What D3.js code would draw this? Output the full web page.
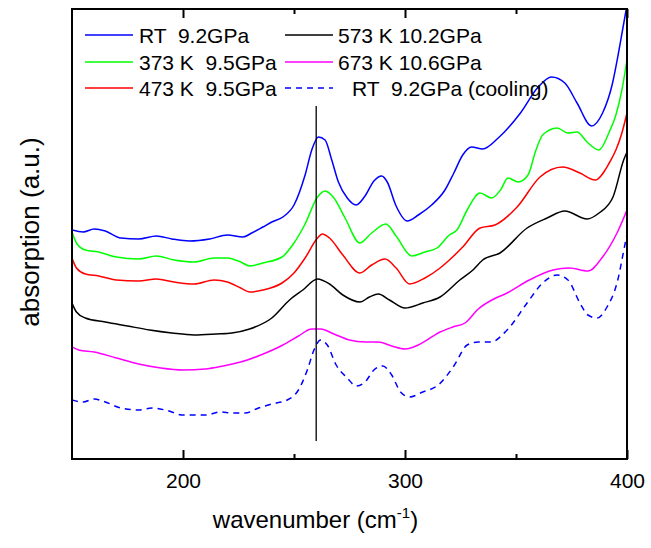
<!DOCTYPE html>
<html>
<head>
<meta charset="utf-8">
<script src="https://cdn.jsdelivr.net/npm/d3@7"></script>
<style>
  body { margin: 0; background: #fff; }
  text { font-family: "Liberation Sans", Arial, sans-serif; fill: #000; }
</style>
</head>
<body>
<svg id="drawing_region"></svg>
<script>
var width = 651;
var height = 548;
var margin = {top: 9, right: 24, bottom: 89, left: 72};

// spectra as [wavenumber, absorption (a.u.)]
const rt92 = [[150,229],[155,227],[160,230],[165,228],[172,221],[180,220],[188,223],[195,220],[203,218],[212,220],[220,224],[227,222],[231,226],[236,232],[240,237],[245,242],[250,254],[255,284],[258,309],[261,322],[264,319],[267,299],[270,277],[274,261],[278,254],[282,263],[286,278],[289.5,283],[292,277],[296,253],[301,238],[306,244],[312,254],[318,269],[322,286],[326,304],[330,312],[335,310],[342,321],[352,346],[360,372],[366,382],[372,376],[377.5,356],[384,333],[389,346],[393.5,376],[396,404],[398,429],[400,454]];
const k373 = [[150,227],[152,216],[156,209],[162,207],[170,202],[180,200],[188,203],[196,199],[205,197],[214,201],[220,201],[226,197],[230,193],[236,196],[244.6,202],[250,216],[255,235],[260.6,262],[264,268],[268,261],[273,241],[279.7,216],[285,226],[291.4,235],[296,223],[303,203],[309,207],[314.4,211],[320,224],[323.4,229],[328,249],[333.8,266],[339,261],[343,269],[346.4,281],[351,277],[355.4,284],[359,309],[362,324],[368.5,331],[373.4,326],[377.5,327],[382,317],[387.4,309],[392,327],[395,344],[397.7,369],[400,399]];
const k473 = [[150,201],[152,191],[156,185],[162,183],[170,179],[180,178],[188,180],[196,177],[205,175],[214,179],[220,177],[226,171],[230,167],[236,169],[244.6,176],[250,186],[255,201],[260.6,221],[262.7,225],[266,221],[272,204],[279.7,186],[285,194],[291,200],[296,191],[302,175],[309,181],[315.8,191],[320,199],[326,212],[333.8,231],[340.5,234],[350.5,252],[360.8,282],[371,292],[378.8,286],[385.6,279],[392,296],[395,309],[397.7,326],[400,346]];
const k573 = [[150,156],[152,147],[156,141],[165,137],[175,133],[185,129],[195,126],[205,124],[215,125],[222,126],[230,130],[240,141],[248,159],[254,169],[260.6,180],[266,175],[272,164],[279.7,157],[284,162],[288,165],[293,159],[300,151],[308,156],[315.8,162],[324.7,179],[330.6,189],[335,199],[342.8,206],[355,231],[364,241],[372,248],[382,240],[387.4,246],[393.7,262],[398.5,299],[400,307]];
const k673 = [[150,112],[153,109],[160,107],[170,101],[180,95],[190,91],[200,89],[210,90],[218,93],[226,97],[235,104],[245,114],[252,123],[258,130],[262,130],[268,125],[275,119],[282,117],[288,117],[294,113],[300,110],[306,114],[315.8,127],[321.6,132],[327,136],[333,150],[340,160],[346,166],[356,179],[366.7,189],[374,191],[382.4,188],[389,202],[395.5,226],[400,249]];
const cooling = [[150,59],[155,57],[160,60],[165,57],[172,51],[180,49],[186,51],[192,49],[200,44],[210,44],[217,47],[222,46],[228,46],[234,51],[240,55],[247,59],[252,69],[256,89],[259,109],[262,119],[265,114],[269,94],[274,81],[278,73],[282,77],[286,89],[290,93],[294,84],[298,67],[302,62],[308,67],[315,74],[322,93],[328,114],[333,117],[338.6,117],[346,129],[355,156],[362,176],[368.5,184],[373.4,179],[378.8,156],[382.4,144],[386.5,141],[391,152],[395.5,176],[399.5,219],[400,224]];

const seriesNames = ["RT  9.2GPa", "373 K  9.5GPa", "473 K  9.5GPa", "573 K 10.2GPa", "673 K 10.6GPa", "RT  9.2GPa (cooling)"];
const seriesData = [rt92, k373, k473, k573, k673, cooling];
const seriesColors = ["#0000ff", "#00ff00", "#ff0000", "#000000", "#ff00ff", "#0000ff"];
const seriesDash = [null, null, null, null, null, "6,5"];

const majorTicks = [200, 300, 400];
const minorTicks = [250, 350];
const markerX = 260;
const markerRange = [18, 353];

var svg = d3.select('#drawing_region')
    .attr('width', width)
    .attr('height', height);

const inner_width = width - margin.left - margin.right;
const inner_height = height - margin.top - margin.bottom;

var chart = svg.append('g')
    .attr('transform', `translate(${margin.left}, ${margin.top})`);

const xscale = d3.scaleLinear().domain([150, 400]).range([0, inner_width]);
const yscale = d3.scaleLinear().domain([0, 450]).range([inner_height, 0]);

chart.append('clipPath').attr('id', 'clip')
    .append('rect').attr('width', inner_width).attr('height', inner_height);

const line = d3.line()
    .x(d => xscale(d[0]))
    .y(d => yscale(d[1]))
    .curve(d3.curveMonotoneX);

// curves
chart.append('g').attr('clip-path', 'url(#clip)')
  .selectAll('path').data(seriesData).enter()
  .append('path')
    .attr('d', line)
    .attr('fill', 'none')
    .attr('stroke', (d, i) => seriesColors[i])
    .attr('stroke-width', 1.5)
    .attr('stroke-dasharray', (d, i) => seriesDash[i]);

// vertical marker
chart.append('line')
    .attr('x1', xscale(markerX)).attr('x2', xscale(markerX))
    .attr('y1', yscale(markerRange[0])).attr('y2', yscale(markerRange[1]))
    .attr('stroke', '#000').attr('stroke-width', 1.3);

// axes (ticks inward, top and bottom)
const xaxis = d3.axisBottom(xscale).tickValues(majorTicks).tickSize(-9).tickPadding(14).tickSizeOuter(0);
const xaxis_group = chart.append('g')
    .attr('transform', `translate(0, ${inner_height})`)
    .call(xaxis);
xaxis_group.selectAll('text').attr('font-size', 21).attr('font-family', '"Liberation Sans", Arial, sans-serif');

const minorB = d3.axisBottom(xscale).tickValues(minorTicks).tickSize(-5).tickFormat('').tickSizeOuter(0);
chart.append('g').attr('transform', `translate(0, ${inner_height})`).call(minorB);

const xaxisTop = d3.axisTop(xscale).tickValues(majorTicks).tickSize(-9).tickFormat('').tickSizeOuter(0);
chart.append('g').call(xaxisTop);
const minorT = d3.axisTop(xscale).tickValues(minorTicks).tickSize(-5).tickFormat('').tickSizeOuter(0);
chart.append('g').call(minorT);

chart.selectAll('.tick line').attr('stroke-width', 2);
chart.selectAll('.domain').remove();

// frame
chart.append('rect')
    .attr('width', inner_width).attr('height', inner_height)
    .attr('fill', 'none').attr('stroke', '#000').attr('stroke-width', 2);

// axis titles
const xt = svg.append('text')
    .attr('x', margin.left + inner_width / 2 - 34)
    .attr('y', 528)
    .attr('text-anchor', 'middle')
    .attr('font-size', 24);
xt.append('tspan').text('wavenumber (cm');
xt.append('tspan').attr('font-size', 15).attr('dy', -10).text('-1');
xt.append('tspan').attr('dy', 10).text(')');

svg.append('text')
    .attr('transform', `translate(39, 232) rotate(-90)`)
    .attr('text-anchor', 'middle')
    .attr('font-size', 26)
    .text('absorption (a.u.)');

// legend
const legendPos = [
  {lx: 85, tx: 139, y: 35}, {lx: 85, tx: 139, y: 62}, {lx: 85, tx: 139, y: 88},
  {lx: 285, tx: 338, y: 35}, {lx: 285, tx: 338, y: 62}, {lx: 285, tx: 352, y: 88}
];
const legend = svg.append('g');
seriesNames.forEach((name, k) => {
  const p = legendPos[k];
  legend.append('line')
    .attr('x1', p.lx).attr('x2', p.lx + 48)
    .attr('y1', p.y).attr('y2', p.y)
    .attr('stroke', seriesColors[k]).attr('stroke-width', 1.5)
    .attr('stroke-dasharray', seriesDash[k]);
  legend.append('text')
    .attr('x', p.tx).attr('y', p.y + 7.5)
    .attr('font-size', 21)
    .style('white-space', 'pre')
    .text(name);
});
</script>
</body>
</html>
